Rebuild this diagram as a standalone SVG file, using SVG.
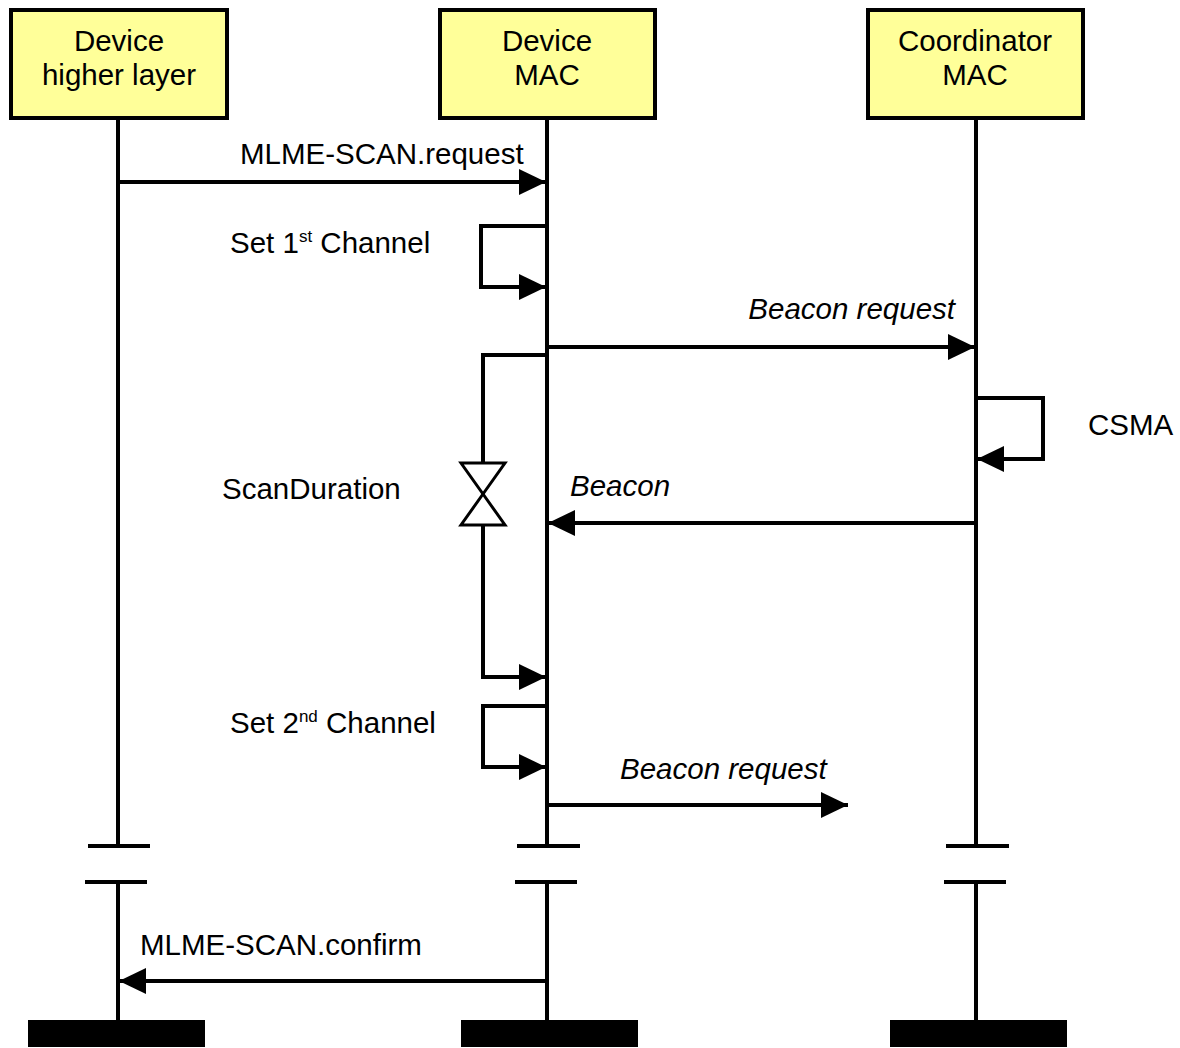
<svg xmlns="http://www.w3.org/2000/svg" width="1180" height="1048" viewBox="0 0 1180 1048">
<defs>
<style>
.box{fill:#FFFF99;stroke:#000;stroke-width:4}
.ln{stroke:#000;stroke-width:4;fill:none}
.t{font-family:"Liberation Sans",Arial,sans-serif;font-size:29.5px;fill:#000}
.c{text-anchor:middle}
.i{font-style:italic}
.bar{fill:#000}
.hg{fill:#fff;stroke:#000;stroke-width:3}
</style>
<marker id="ah" viewBox="0 0 27 26" refX="27" refY="13" markerWidth="27" markerHeight="26" markerUnits="userSpaceOnUse" orient="auto">
<path d="M0,0 L27,13 L0,26 Z" fill="#000"/>
</marker>
</defs>
<rect width="1180" height="1048" fill="#fff"/>
<g id="node-device-higher-layer">
<line class="ln" x1="118" y1="118" x2="118" y2="846"/>
<line class="ln" x1="118" y1="882" x2="118" y2="1020"/>
<line class="ln" x1="88" y1="846" x2="150" y2="846"/>
<line class="ln" x1="85" y1="882" x2="147" y2="882"/>
<rect class="box" x="11" y="10" width="216" height="108"/>
<text class="t c" x="119" y="51">Device</text>
<text class="t c" x="119" y="85">higher layer</text>
<rect class="bar" x="28" y="1020" width="177" height="27"/>
</g>
<g id="node-device-mac">
<line class="ln" x1="547" y1="118" x2="547" y2="846"/>
<line class="ln" x1="547" y1="882" x2="547" y2="1020"/>
<line class="ln" x1="517" y1="846" x2="580" y2="846"/>
<line class="ln" x1="515" y1="882" x2="577" y2="882"/>
<rect class="box" x="440" y="10" width="215" height="108"/>
<text class="t c" x="547" y="51">Device</text>
<text class="t c" x="547" y="85">MAC</text>
<rect class="bar" x="461" y="1020" width="177" height="27"/>
</g>
<g id="node-coordinator-mac">
<line class="ln" x1="976" y1="118" x2="976" y2="846"/>
<line class="ln" x1="976" y1="882" x2="976" y2="1020"/>
<line class="ln" x1="946" y1="846" x2="1009" y2="846"/>
<line class="ln" x1="944" y1="882" x2="1006" y2="882"/>
<rect class="box" x="868" y="10" width="215" height="108"/>
<text class="t c" x="975" y="51">Coordinator</text>
<text class="t c" x="975" y="85">MAC</text>
<rect class="bar" x="890" y="1020" width="177" height="27"/>
</g>
<g id="connectors">
<line class="ln" x1="118" y1="182" x2="546" y2="182" marker-end="url(#ah)"/>
<text class="t" x="240" y="164">MLME-SCAN.request</text>
<polyline class="ln" points="547,226 481,226 481,287 546,287" marker-end="url(#ah)"/>
<text class="t" x="230" y="253">Set 1<tspan font-size="17" dy="-11">st</tspan><tspan dy="11"> Channel</tspan></text>
<line class="ln" x1="547" y1="347" x2="975" y2="347" marker-end="url(#ah)"/>
<text class="t i" x="955" y="319" text-anchor="end">Beacon request</text>
<polyline class="ln" points="547,355 483,355 483,463"/>
<polyline class="ln" points="483,525 483,677 546,677" marker-end="url(#ah)"/>
<path class="hg" d="M461,463 L505,463 L483,494 Z"/>
<path class="hg" d="M483,494 L505,525 L461,525 Z"/>
<text class="t" x="222" y="499">ScanDuration</text>
<polyline class="ln" points="976,398 1043,398 1043,459 977,459" marker-end="url(#ah)"/>
<text class="t" x="1088" y="435">CSMA</text>
<line class="ln" x1="976" y1="523" x2="548" y2="523" marker-end="url(#ah)"/>
<text class="t i" x="570" y="496">Beacon</text>
<polyline class="ln" points="547,706 483,706 483,767 546,767" marker-end="url(#ah)"/>
<text class="t" x="230" y="733">Set 2<tspan font-size="17" dy="-11">nd</tspan><tspan dy="11"> Channel</tspan></text>
<line class="ln" x1="547" y1="805" x2="848" y2="805" marker-end="url(#ah)"/>
<text class="t i" x="620" y="779">Beacon request</text>
<line class="ln" x1="547" y1="981" x2="119" y2="981" marker-end="url(#ah)"/>
<text class="t" x="140" y="955">MLME-SCAN.confirm</text>
</g>
</svg>
